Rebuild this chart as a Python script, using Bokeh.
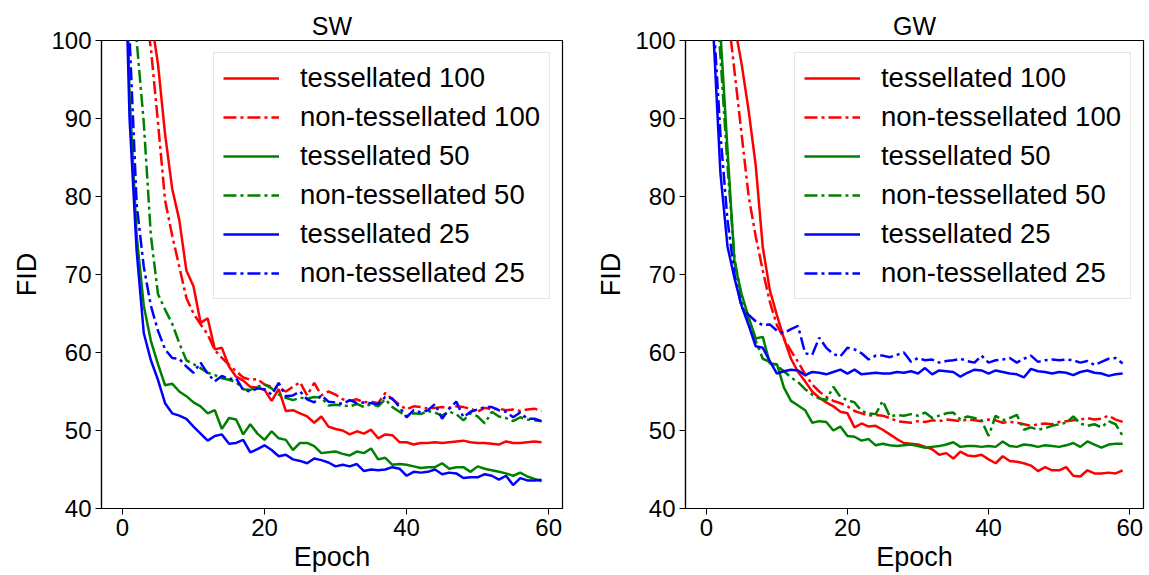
from bokeh.plotting import figure
from bokeh.layouts import row
from bokeh.models import Range1d, FixedTicker
from bokeh.embed import file_html
from bokeh.resources import INLINE

epochs = list(range(60))

sw_tess_100 = [155, 140, 125, 112, 103, 97, 88, 81, 77, 70.5, 68.5, 63.8, 64.4, 60.4, 60.6, 58.2, 56.9, 56.4, 55.6, 55.5,
               55.2, 53.8, 55.3, 52.5, 52.6, 52.2, 51.8, 51.0, 51.8, 50.5, 50.2, 50.0, 49.5, 49.9, 49.6, 50.1, 49.0, 49.5, 49.4, 48.5,
               48.5, 48.2, 48.4, 48.4, 48.5, 48.4, 48.5, 48.6, 48.7, 48.5, 48.4, 48.4, 48.3, 48.2, 48.6, 48.4, 48.4, 48.5, 48.6, 48.5]
sw_non_100 = [150, 130, 115, 105, 99, 89.5, 79.5, 75, 71, 67, 65, 63.6, 62.3, 60.3, 59.3, 58.4, 57.6, 56.8, 56.5, 56.6,
              55.9, 55.6, 55.5, 55.0, 55.6, 56.2, 54.5, 56.1, 54.5, 55.0, 54.6, 54.0, 53.8, 54.0, 53.6, 53.7, 53.5, 54.8, 54.0, 53.3,
              52.7, 53.1, 53.0, 52.8, 52.9, 53.0, 52.9, 53.1, 53.0, 52.8, 52.4, 52.9, 52.7, 52.8, 52.6, 52.7, 52.5, 52.7, 52.8, 52.5]
sw_tess_50 = [130, 93, 75, 66, 61.5, 58.5, 55.8, 56.0, 55.0, 54.4, 53.6, 53.1, 52.2, 52.6, 50.2, 51.6, 51.4, 49.5, 50.8, 49.6,
              48.8, 49.9, 49.0, 48.8, 47.5, 48.4, 48.4, 48.0, 47.1, 47.2, 47.3, 47.0, 46.8, 47.3, 47.1, 47.7, 46.3, 46.5, 45.6, 45.7,
              45.6, 45.4, 45.2, 45.3, 45.3, 45.8, 45.1, 45.3, 45.3, 44.7, 45.4, 45.1, 44.9, 44.7, 44.5, 44.2, 44.6, 44.1, 43.8, 43.5]
sw_non_50 = [130, 112, 100, 89.5, 75, 67.5, 65.5, 63.7, 61.2, 59, 58.5, 58.0, 57.4, 57.1, 56.7, 56.5, 56.2, 55.3, 55.2, 55.6,
             55.9, 55.4, 54.6, 54.2, 53.9, 54.2, 54.1, 54.3, 54.2, 53.2, 53.3, 53.2, 53.1, 53.4, 53.0, 53.4, 53.1, 54.0, 53.0, 52.4,
             51.8, 52.2, 52.1, 52.5, 52.3, 51.9, 52.4, 52.1, 51.3, 52.2, 51.8, 50.9, 52.4, 51.8, 51.6, 51.2, 51.7, 51.4, 51.3, 51.2]
sw_tess_25 = [125, 90, 73, 62.5, 59, 56.5, 53.5, 52.2, 51.9, 51.5, 50.5, 49.6, 48.7, 49.3, 49.5, 48.3, 48.4, 48.8, 47.2, 47.6,
              48.1, 47.5, 46.7, 46.9, 46.3, 46.1, 45.8, 46.4, 46.2, 45.9, 45.4, 45.6, 45.4, 45.7, 44.8, 45.0, 44.9, 45.0, 45.3, 45.1,
              44.2, 44.7, 44.6, 44.7, 45.0, 44.4, 44.6, 44.5, 43.9, 44.0, 44.0, 44.4, 44.2, 43.7, 44.2, 43.0, 43.9, 43.6, 43.6, 43.7]
sw_non_25 = [115, 100.5, 79, 71, 66, 62.8, 60.4, 59.3, 59.2, 58.2, 57.4, 58.7, 57.3, 56.3, 57.0, 56.6, 56.7, 55.2, 55.0, 55.4,
             55.3, 54.6, 56.1, 54.4, 54.5, 55.0, 54.0, 53.6, 54.5, 53.7, 53.6, 53.4, 53.9, 53.5, 53.6, 53.5, 53.4, 54.3, 54.1, 53.0,
             51.7, 52.6, 52.3, 52.6, 53.4, 51.5, 52.8, 53.7, 51.7, 52.4, 52.7, 53.0, 53.0, 52.6, 52.4, 51.7, 52.3, 51.5, 51.5, 51.2]

gw_tess_100 = [150, 135, 120, 110, 102, 97, 91, 84, 73.5, 68, 64.8, 61.8, 59.2, 57.5, 56.3, 55.0, 54.2, 53.6, 53.1, 52.4,
               52.2, 50.4, 50.9, 50.5, 50.6, 50.1, 49.5, 48.9, 48.4, 48.3, 48.2, 47.9, 47.6, 46.9, 47.1, 46.4, 47.3, 46.8, 46.7, 46.9,
               46.3, 45.8, 46.7, 46.1, 46.0, 45.8, 45.5, 44.8, 45.3, 44.9, 44.9, 45.3, 44.2, 44.1, 44.9, 44.5, 44.5, 44.6, 44.5, 44.9]
gw_non_100 = [140, 125, 112, 104, 96, 88, 80, 74.9, 70.5, 66.5, 63.5, 61.8, 60.2, 58.8, 57.2, 55.9, 55.0, 54.3, 53.8, 53.5,
              53.1, 52.5, 52.2, 51.9, 52.0, 51.9, 51.6, 51.2, 51.1, 51.0, 51.2, 51.1, 51.3, 51.2, 51.4, 51.3, 51.2, 51.4, 51.3, 51.2,
              51.4, 51.3, 51.0, 51.1, 51.0, 50.8, 50.6, 50.8, 50.9, 50.8, 51.1, 51.2, 51.3, 51.4, 51.6, 51.4, 51.5, 51.9, 51.4, 51.1]
gw_tess_50 = [135, 115, 101, 86, 71.5, 67.5, 64.5, 61.8, 62.0, 58.6, 58.5, 55.5, 53.8, 53.2, 52.6, 51.0, 51.2, 51.1, 50.0, 50.5,
              49.3, 49.2, 48.7, 48.9, 48.1, 48.3, 48.1, 48.0, 48.1, 48.2, 48.0, 47.8, 47.9, 48.0, 48.2, 48.5, 47.9, 48.0, 48.0, 47.9,
              48.0, 47.9, 48.6, 48.0, 47.9, 48.2, 48.1, 47.9, 48.1, 48.0, 47.9, 48.1, 48.4, 47.9, 48.6, 48.2, 47.8, 48.2, 48.3, 48.3]
gw_non_50 = [130, 112, 98, 84, 72, 67, 64, 61.5, 59.2, 58.8, 58.3, 57.6, 56.8, 56.2, 55.3, 54.6, 54.1, 53.9, 55.6, 54.3,
             53.9, 53.6, 52.5, 52.2, 52.1, 53.8, 51.8, 52.0, 51.9, 52.1, 51.9, 52.3, 51.6, 51.9, 52.2, 52.3, 51.4, 51.8, 51.6, 51.3,
             49.3, 51.9, 51.3, 51.6, 52.0, 50.1, 50.4, 50.1, 50.3, 50.6, 50.8, 51.0, 51.8, 50.9, 50.6, 50.8, 50.4, 51.2, 50.8, 49.3]
gw_tess_25 = [125, 101, 83, 73.6, 69.5, 66, 63.5, 60.8, 60.6, 58.9, 57.3, 57.6, 57.8, 57.7, 57.1, 57.5, 57.4, 57.2, 57.5, 57.8,
              57.3, 57.8, 57.2, 57.3, 57.4, 57.3, 57.3, 57.5, 57.4, 57.6, 57.3, 58.0, 57.2, 57.7, 57.6, 57.5, 56.9, 57.4, 57.8, 57.7,
              57.3, 57.7, 57.5, 57.3, 57.2, 56.8, 57.9, 57.6, 57.5, 57.3, 57.5, 57.4, 57.1, 57.5, 57.7, 57.4, 57.3, 57.0, 57.2, 57.3]
gw_non_25 = [120, 103, 88, 77, 70, 65.8, 64.8, 64.0, 63.5, 63.6, 62.8, 62.5, 63.0, 63.4, 59.9, 59.7, 61.9, 60.6, 59.8, 59.5,
             60.6, 60.4, 59.9, 59.1, 59.6, 59.6, 59.4, 59.7, 60.0, 58.8, 59.3, 59.0, 59.1, 58.7, 58.9, 59.0, 59.2, 58.9, 58.7, 59.6,
             58.7, 59.0, 59.1, 59.3, 58.7, 59.2, 59.6, 58.8, 59.0, 59.1, 59.0, 59.1, 59.0, 58.7, 58.9, 58.4, 58.8, 59.2, 59.3, 58.6]

labels = ["tessellated 100", "non-tessellated 100", "tessellated 50",
          "non-tessellated 50", "tessellated 25", "non-tessellated 25"]
colors = ["#ff0000", "#ff0000", "#008000", "#008000", "#0000ff", "#0000ff"]
dashes = ["solid", "13 4 3 4", "solid", "13 4 3 4", "solid", "13 4 3 4"]
x_ticks = [0, 20, 40, 60]
y_ticks = [40, 50, 60, 70, 80, 90, 100]

FONT = "Liberation Sans"
HEIGHT = 575


def make_panel(title, series, width, border_left, border_right):
    p = figure(width=width, height=HEIGHT, output_backend="svg", toolbar_location=None,
               x_range=Range1d(-2.95, 61.95), y_range=Range1d(40, 100),
               min_border_left=border_left, min_border_right=border_right,
               min_border_top=40, min_border_bottom=67)
    p.title.text = title
    p.title.align = "center"
    p.title.text_font = FONT
    p.title.text_font_size = "25px"
    p.title.text_font_style = "normal"
    p.title.text_color = "black"
    p.title.standoff = 2
    for vals, lab, col, dash in zip(series, labels, colors, dashes):
        p.line(epochs, vals, line_color=col, line_width=2.5, line_dash=dash, legend_label=lab)
    p.xgrid.visible = False
    p.ygrid.visible = False
    p.outline_line_color = "black"
    p.outline_line_width = 1.2
    p.outline_line_alpha = 1
    for ax in (p.xaxis[0], p.yaxis[0]):
        ax.axis_line_color = "black"
        ax.axis_line_width = 1.2
        ax.major_tick_out = 6
        ax.major_tick_in = 0
        ax.major_tick_line_color = "black"
        ax.minor_tick_line_color = None
        ax.major_label_text_font = FONT
        ax.major_label_text_font_size = "24px"
        ax.major_label_text_color = "black"
        ax.axis_label_text_font = FONT
        ax.axis_label_text_font_size = "27px"
        ax.axis_label_text_font_style = "normal"
        ax.axis_label_text_color = "black"
    p.xaxis[0].ticker = FixedTicker(ticks=x_ticks)
    p.yaxis[0].ticker = FixedTicker(ticks=y_ticks)
    p.xaxis[0].axis_label = "Epoch"
    p.yaxis[0].axis_label = "FID"
    p.xaxis[0].major_label_standoff = 4
    p.xaxis[0].axis_label_standoff = 3
    p.yaxis[0].major_label_standoff = 4
    p.yaxis[0].axis_label_standoff = 6
    lg = p.legend[0]
    lg.location = "top_right"
    lg.margin = 12
    lg.padding = 9
    lg.spacing = 7
    lg.glyph_width = 56
    lg.glyph_height = 20
    lg.label_standoff = 21
    lg.label_text_font = FONT
    lg.label_text_font_size = "27.5px"
    lg.label_text_color = "black"
    lg.border_line_color = "#cccccc"
    lg.border_line_width = 1.5
    lg.background_fill_alpha = 0.8
    return p


p1 = make_panel("SW", [sw_tess_100, sw_non_100, sw_tess_50, sw_non_50, sw_tess_25, sw_non_25],
                width=572, border_left=101, border_right=10)
p2 = make_panel("GW", [gw_tess_100, gw_non_100, gw_tess_50, gw_non_50, gw_tess_25, gw_non_25],
                width=575, border_left=113, border_right=4)

layout = row(p1, p2)
open("out.html", "w").write(file_html(layout, INLINE))
